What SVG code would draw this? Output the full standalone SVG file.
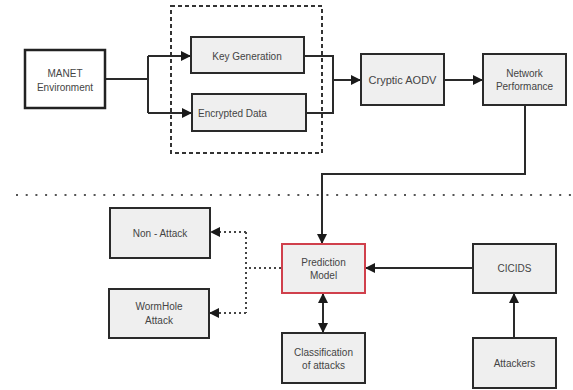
<svg xmlns="http://www.w3.org/2000/svg" width="573" height="390" viewBox="0 0 573 390">
<style>
.box{fill:#efefef;stroke:#2a2a2a;stroke-width:2}
.t{font-family:"Liberation Sans",Arial,sans-serif;font-size:10px;fill:#444;text-anchor:middle;dominant-baseline:central}
.ln{fill:none;stroke:#2a2a2a;stroke-width:2}
.dot{fill:none;stroke:#444;stroke-width:2;stroke-dasharray:2 3}
</style>
<defs>
<marker id="ah" viewBox="0 0 10 10" refX="9" refY="5" markerWidth="5" markerHeight="5" orient="auto-start-reverse" markerUnits="strokeWidth">
<path d="M0,0 L10,5 L0,10 z" fill="#1a1a1a"/>
</marker>
</defs>
<rect width="573" height="390" fill="#fff"/>
<rect x="171" y="6" width="151" height="147" fill="none" stroke="#333" stroke-width="2" stroke-dasharray="4 3"/>
<line x1="16" y1="195" x2="573" y2="195" stroke="#555" stroke-width="2.2" stroke-dasharray="2 7.7"/>
<g id="connectors">
<path class="ln" d="M105,79 H148"/>
<path class="ln" d="M148,56 V113"/>
<path class="ln" d="M148,56 H190" marker-end="url(#ah)"/>
<path class="ln" d="M148,113 H191" marker-end="url(#ah)"/>
<path class="ln" d="M304,56 H333 V113 H306"/>
<path class="ln" d="M333,80 H360" marker-end="url(#ah)"/>
<path class="ln" d="M444,80 H482" marker-end="url(#ah)"/>
<path class="ln" d="M525,105 V174 H322 V243" marker-end="url(#ah)"/>
<path class="ln" d="M473,268 H366" marker-end="url(#ah)"/>
<path class="ln" d="M514,338 V294" marker-end="url(#ah)"/>
<path class="ln" d="M323,294 V332" marker-start="url(#ah)" marker-end="url(#ah)"/>
<path class="dot" d="M281,268 H246"/>
<path class="dot" d="M246,232 V313"/>
<path class="dot" d="M246,232 H211" marker-end="url(#ah)"/>
<path class="dot" d="M246,313 H210" marker-end="url(#ah)"/>
</g>
<g id="manet"><rect x="25" y="50" width="80" height="58" fill="#fff" stroke="#222" stroke-width="2.5"/><text class="t" x="65" y="73">MANET</text><text class="t" x="65" y="87">Environment</text></g>
<g id="keygen"><rect class="box" x="191" y="37" width="113" height="36"/><text class="t" x="247" y="56">Key Generation</text></g>
<g id="encdata"><rect class="box" x="192" y="94" width="114" height="37"/><text class="t" x="198" y="113" style="text-anchor:start">Encrypted Data</text></g>
<g id="cryptic"><rect class="box" x="361" y="54" width="83" height="51"/><text class="t" x="402.5" y="80" style="font-size:11px">Cryptic AODV</text></g>
<g id="netperf"><rect class="box" x="483" y="54" width="83" height="51"/><text class="t" x="524.5" y="73">Network</text><text class="t" x="524.5" y="86">Performance</text></g>
<g id="nonattack"><rect class="box" x="110" y="208" width="100" height="50"/><text class="t" x="160" y="233">Non - Attack</text></g>
<g id="wormhole"><rect class="box" x="109" y="289" width="100" height="49"/><text class="t" x="159" y="306">WormHole</text><text class="t" x="159" y="320">Attack</text></g>
<g id="prediction"><rect x="282" y="244" width="83" height="49" fill="#efefef" stroke="#d0404c" stroke-width="2"/><text class="t" x="323.5" y="262">Prediction</text><text class="t" x="323.5" y="275">Model</text></g>
<g id="cicids"><rect class="box" x="473" y="244" width="83" height="49"/><text class="t" x="514.5" y="268">CICIDS</text></g>
<g id="classification"><rect class="box" x="282" y="333" width="83" height="50"/><text class="t" x="323.5" y="352">Classification</text><text class="t" x="323.5" y="365">of attacks</text></g>
<g id="attackers"><rect class="box" x="473" y="338" width="83" height="50"/><text class="t" x="514.5" y="363">Attackers</text></g>
</svg>
